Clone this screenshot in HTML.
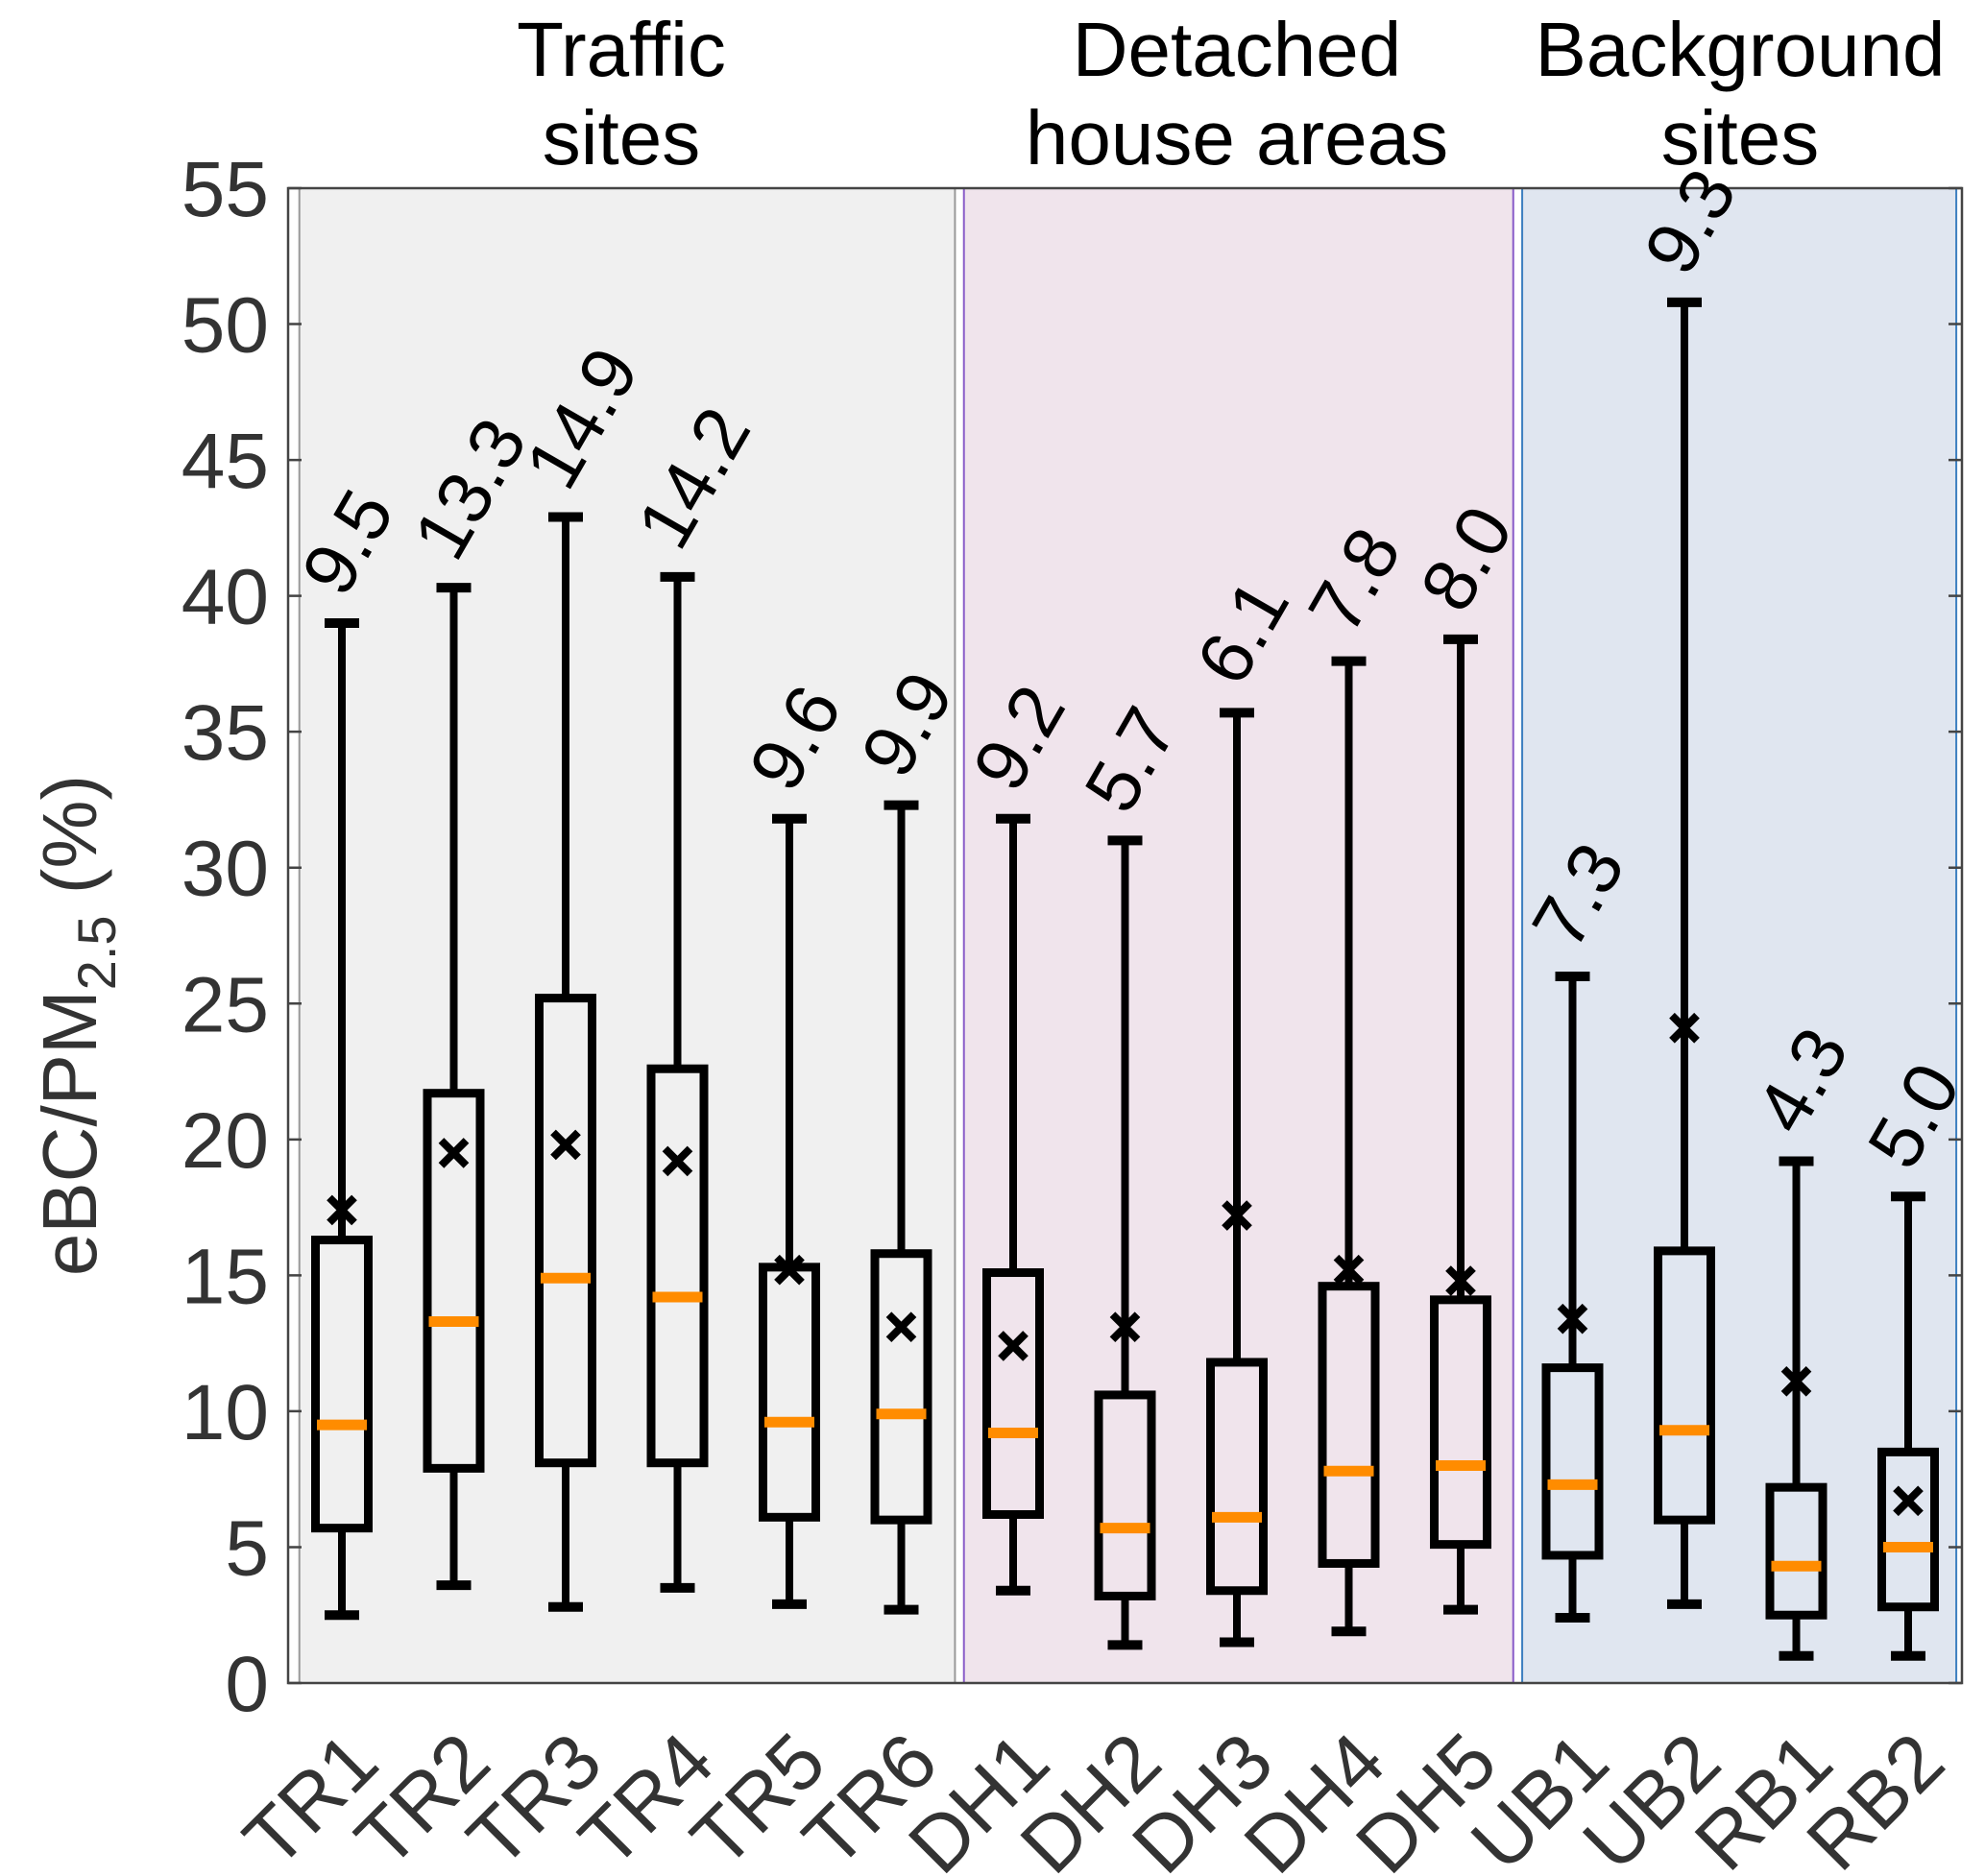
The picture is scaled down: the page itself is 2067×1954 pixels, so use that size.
<!DOCTYPE html>
<html><head><meta charset="utf-8"><style>
html,body{margin:0;padding:0;background:#fff;}
svg{display:block;font-family:"Liberation Sans",Arial,sans-serif;}
</style></head><body>
<svg id="chart" width="2067" height="1954" viewBox="0 0 2067 1954" xmlns="http://www.w3.org/2000/svg">
<g id="bg"></g><g id="axes"></g><g id="marks"></g><g id="labels"></g>
<text x="647" y="79" font-size="80" text-anchor="middle" fill="#000">Traffic</text>
<text x="647" y="171" font-size="80" text-anchor="middle" fill="#000">sites</text>
<text x="1288" y="79" font-size="80" text-anchor="middle" fill="#000">Detached</text>
<text x="1288" y="171" font-size="80" text-anchor="middle" fill="#000">house areas</text>
<text x="1812" y="79" font-size="80" text-anchor="middle" fill="#000">Background</text>
<text x="1812" y="171" font-size="80" text-anchor="middle" fill="#000">sites</text>
<text transform="translate(100,1068) rotate(-90)" font-size="80" text-anchor="middle" fill="#333">eBC/PM<tspan font-size="56" dy="20">2.5</tspan><tspan dy="-20"> (%)</tspan></text>
</svg>
<script>
const categories=["TR1","TR2","TR3","TR4","TR5","TR6","DH1","DH2","DH3","DH4","DH5","UB1","UB2","RB1","RB2"];
const whiskerHigh=[39.0,40.3,42.9,40.7,31.8,32.3,31.8,31.0,35.7,37.6,38.4,26.0,50.8,19.2,17.9];
const q3=[16.3,21.7,25.2,22.6,15.3,15.8,15.1,10.6,11.8,14.6,14.1,11.6,15.9,7.2,8.5];
const medians=[9.5,13.3,14.9,14.2,9.6,9.9,9.2,5.7,6.1,7.8,8.0,7.3,9.3,4.3,5.0];
const q1=[5.7,7.9,8.1,8.1,6.1,6.0,6.2,3.2,3.4,4.4,5.1,4.7,6.0,2.5,2.8];
const whiskerLow=[2.5,3.6,2.8,3.5,2.9,2.7,3.4,1.4,1.5,1.9,2.7,2.4,2.9,1.0,1.0];
const means=[17.4,19.5,19.8,19.2,15.2,13.1,12.4,13.1,17.2,15.2,14.8,13.4,24.1,11.1,6.7];
const medianLabels=["9.5","13.3","14.9","14.2","9.6","9.9","9.2","5.7","6.1","7.8","8.0","7.3","9.3","4.3","5.0"];
const yTicks=[0,5,10,15,20,25,30,35,40,45,50,55];
const regions=[{name:"traffic-region",from:0.62,to:6.48,fill:"#f0f0f0",edge:"#999"},{name:"detached-region",from:6.56,to:11.47,fill:"#f0e4ec",edge:"#8a5cc8"},{name:"background-region",from:11.55,to:15.43,fill:"#e0e6f0",edge:"#3d7fc0"}];
const NS="http://www.w3.org/2000/svg";
const X0=300,X1=2043,Y0=1753,Y1=196;
function xs(i){return 356+(i-1)*116.5;}
function ys(v){return Y0-(v/55)*(Y0-Y1);}
function mk(tag,attrs,parent){const e=document.createElementNS(NS,tag);for(const k in attrs)e.setAttribute(k,attrs[k]);document.getElementById(parent).appendChild(e);return e;}
regions.forEach(r=>{
 const a=xs(r.from),b=xs(r.to);
 const e=mk("rect",{x:a,y:Y1,width:b-a,height:Y0-Y1,fill:r.fill,stroke:r.edge,"stroke-width":2},"bg");
 
 
});
const box=mk("rect",{x:X0,y:Y1,width:X1-X0,height:Y0-Y1,fill:"none",stroke:"#444","stroke-width":2.5},"axes");


yTicks.forEach(t=>{
 const y=ys(t);
 const l=mk("path",{d:`M${X0} ${y}h14M${X1} ${y}h-14`,stroke:"#444","stroke-width":2.5},"axes");
 
 
 const tx=mk("text",{x:280,y:y+29,"font-size":82,"text-anchor":"end",fill:"#333"},"axes");
 tx.textContent=t;
 
 
});
categories.forEach((c,k)=>{
 const i=k+1,cx=xs(i);
 const g=mk("g",{},"marks");
 
 
 const add=(tag,at)=>{const e=document.createElementNS(NS,tag);for(const kk in at)e.setAttribute(kk,at[kk]);g.appendChild(e);return e;};
 const w=55,cw=36;
 const wh=add("path",{d:`M${cx} ${ys(whiskerHigh[k])}V${ys(q3[k])}M${cx} ${ys(q1[k])}V${ys(whiskerLow[k])}`,stroke:"#000","stroke-width":8,fill:"none"});
 
 
 const cap=add("path",{d:`M${cx-cw/2} ${ys(whiskerHigh[k])}h${cw}M${cx-cw/2} ${ys(whiskerLow[k])}h${cw}`,stroke:"#000","stroke-width":10});
 
 
 const r=add("rect",{x:cx-w/2,y:ys(q3[k]),width:w,height:ys(q1[k])-ys(q3[k]),fill:"none",stroke:"#000","stroke-width":9});
 
 
 const m=add("path",{d:`M${cx-26} ${ys(medians[k])}h52`,stroke:"#ff8c00","stroke-width":11});
 
 
 const my=ys(means[k]),s=13;
 const mm=add("path",{d:`M${cx-s} ${my-s}L${cx+s} ${my+s}M${cx-s} ${my+s}L${cx+s} ${my-s}`,stroke:"#000","stroke-width":8});
 
 
 const ty=ys(whiskerHigh[k])-24;
 const vl=mk("text",{transform:`translate(${cx+2},${ty}) rotate(-60)`,"font-size":78,fill:"#000"},"labels");
 vl.textContent=medianLabels[k];
 
 
 const xl=mk("text",{transform:`translate(${cx+42},${1840}) rotate(-45)`,"font-size":82,"text-anchor":"end",fill:"#333"},"labels");
 xl.textContent=c;
 
 
});
</script>
</body></html>
